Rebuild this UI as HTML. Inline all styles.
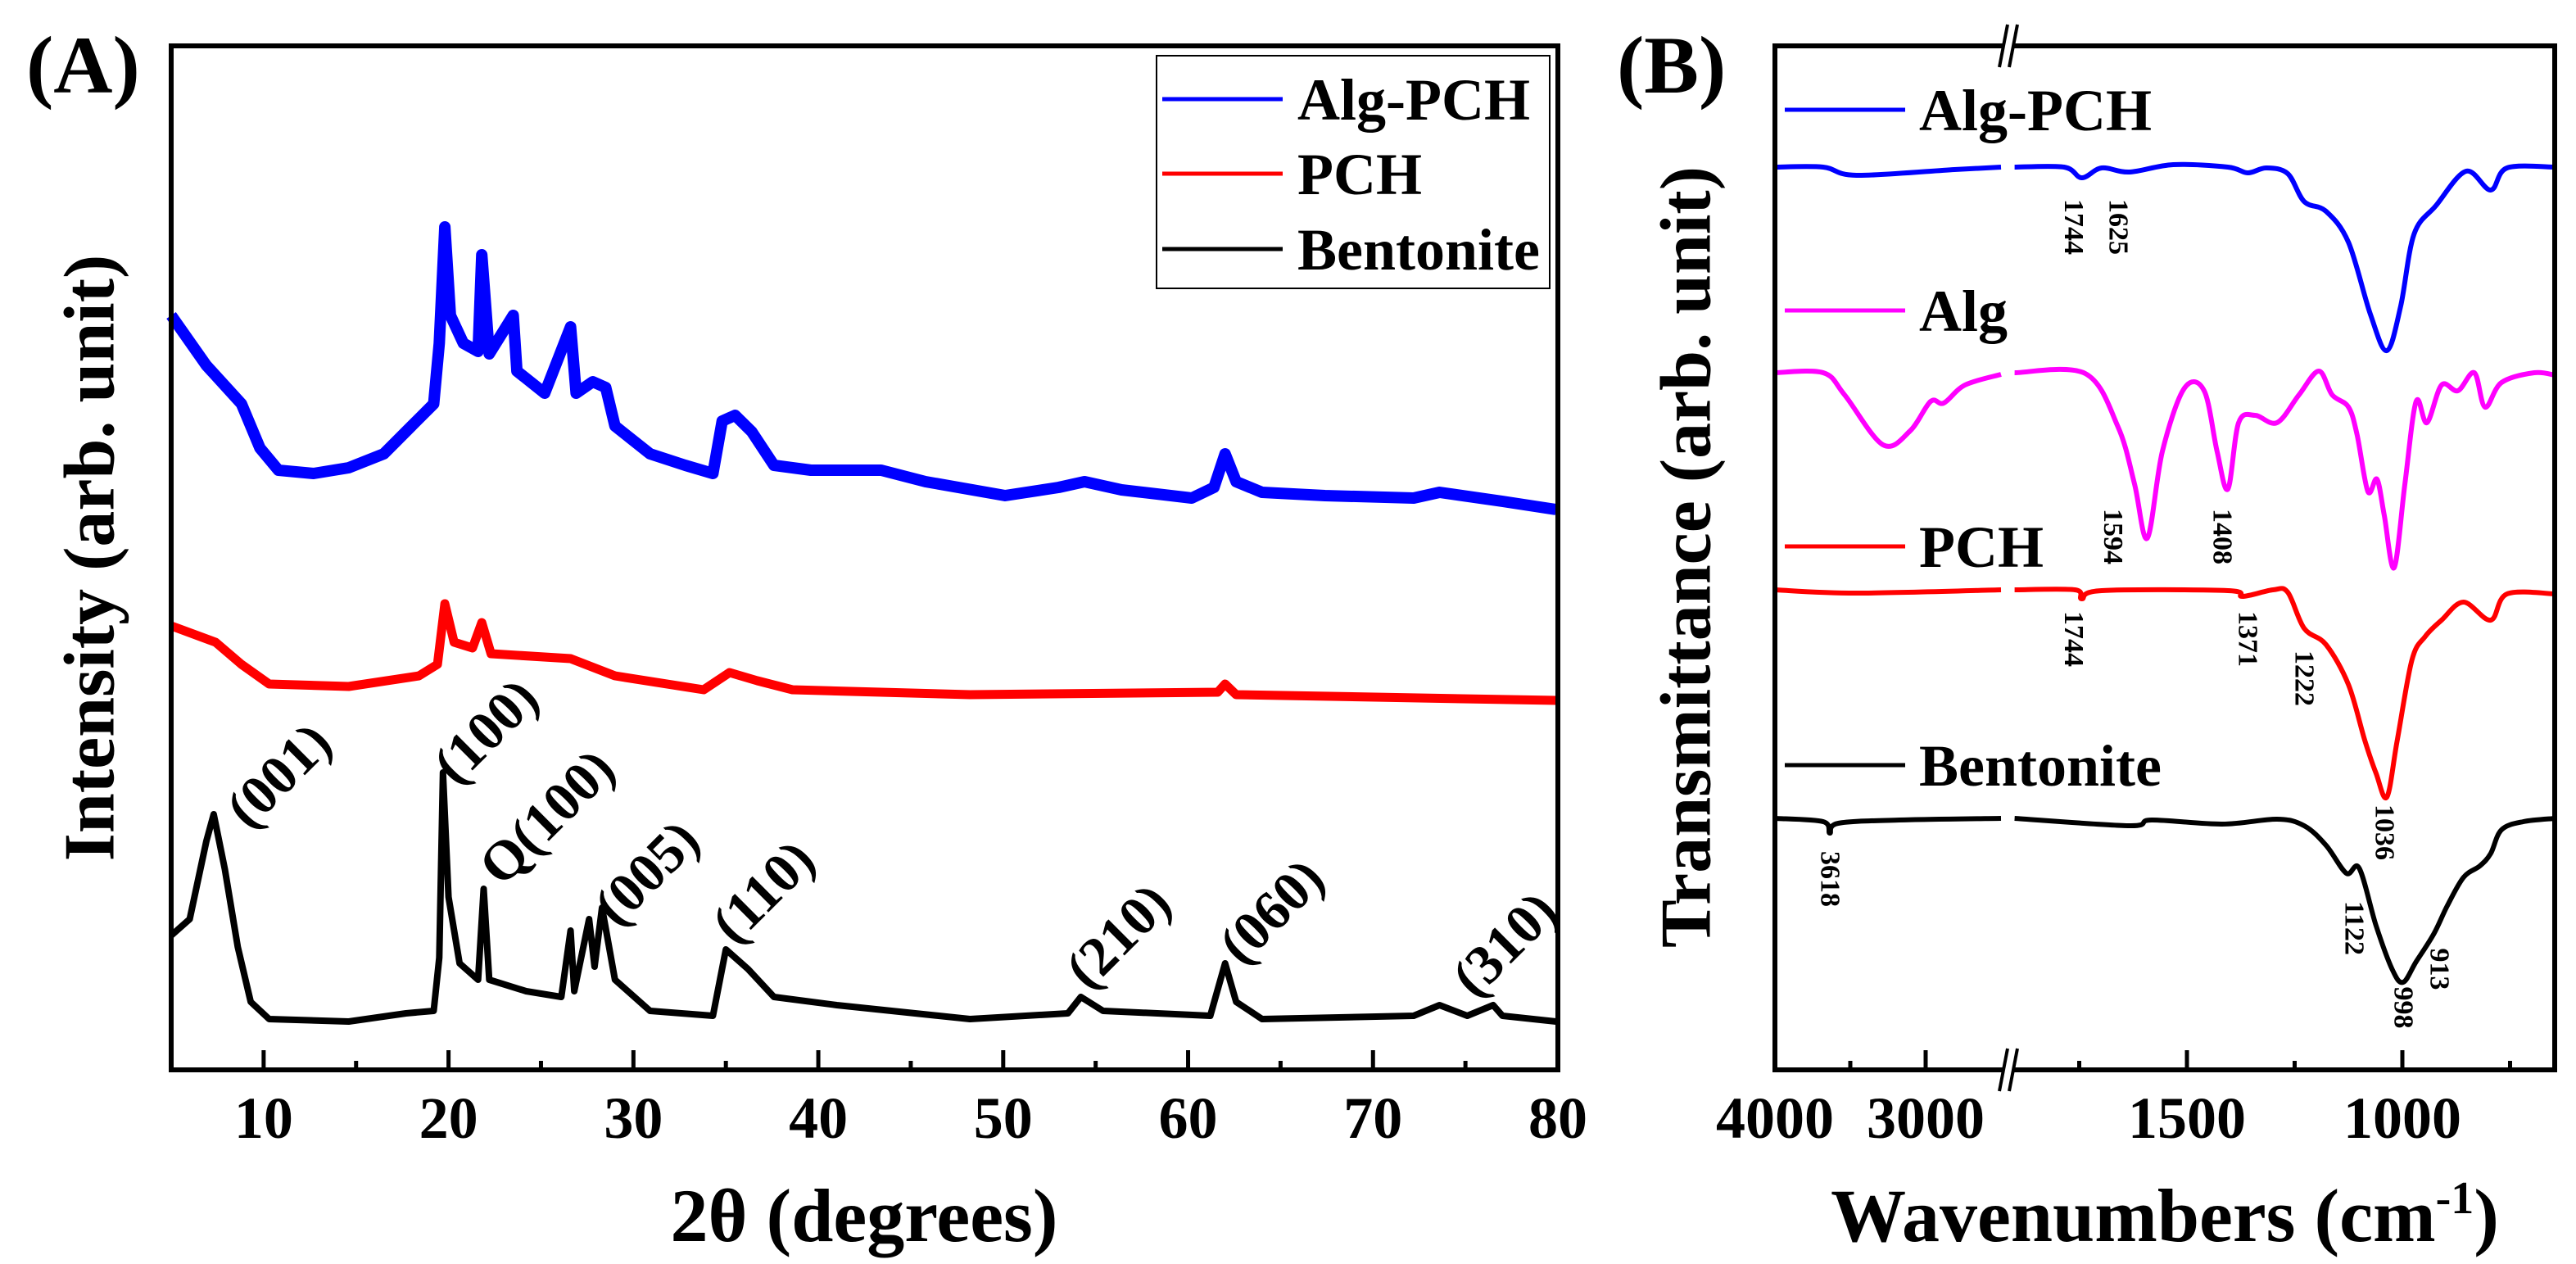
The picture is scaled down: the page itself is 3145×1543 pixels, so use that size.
<!DOCTYPE html>
<html><head><meta charset="utf-8"><style>
html,body{margin:0;padding:0;background:#fff;}
svg{display:block;font-family:"Liberation Serif",serif;font-weight:bold;}
</style></head><body>
<svg id="fig" width="3145" height="1543" viewBox="0 0 3145 1543" xmlns="http://www.w3.org/2000/svg">
<rect width="3145" height="1543" fill="#fff"/>
<g id="panelA"></g>
<g id="panelB"></g>
</svg>
<script>
// ---------- Panel A data (XRD) ----------
const xrdTicks = [10,20,30,40,50,60,70,80];
const thetaAlgPCH = [5.0,6.9,8.8,9.8,10.8,12.7,14.6,16.5,18.0,19.2,19.5,19.8,20.1,20.8,21.6,21.8,22.2,23.5,23.7,25.2,26.6,26.9,27.8,28.5,29.0,30.9,32.8,34.3,34.8,35.5,36.4,37.6,39.6,43.4,45.8,50.1,53.0,54.4,56.4,60.2,61.4,62.0,62.6,64.0,67.4,72.2,73.6,77.0,79.9];
const intAlgPCH = [921,860,813,759,732,728,735,752,786,813,887,1029,921,887,877,995,874,921,853,826,907,826,840,833,786,752,738,728,792,799,779,738,732,732,718,701,711,718,708,698,711,752,718,705,701,698,705,694,684];
const thetaPCH = [5.0,7.4,8.8,10.3,14.6,18.4,19.4,19.8,20.3,21.3,21.8,22.3,26.6,29.0,33.8,35.2,36.7,38.6,48.2,61.6,62.0,62.6,79.9];
const intPCH = [542,522,495,471,468,481,495,569,522,515,546,508,502,481,464,485,475,464,458,461,471,458,451];
const thetaBent = [5,6.0,6.9,7.3,7.9,8.6,9.3,10.3,14.6,17.7,19.2,19.5,19.7,20.0,20.6,21.6,21.9,22.2,24.2,26.1,26.6,26.8,27.6,27.9,28.3,29.0,30.9,34.3,35.0,36.2,37.6,41.0,48.2,53.5,54.2,55.4,61.2,62.0,62.6,64.0,72.2,73.6,75.1,76.5,77.0,79.9];
const intBent = [164,184,279,312,245,150,83,62,59,69,72,137,363,211,130,110,221,110,96,89,170,96,184,126,198,110,72,66,147,123,89,79,62,69,89,72,66,130,83,62,66,79,66,79,66,59];
const xrdLabels = ["(001)","(100)","Q(100)","(005)","(110)","(210)","(060)","(310)"];
const xrdLabelTheta = [10.8,22.0,25.3,30.7,37.0,56.2,64.5,77.1];
const xrdLabelInt = [360,414,309,241,218,164,194,154];

// ---------- Panel B data (FTIR) ----------
const wnTicks = [4000,3000,1500,1000];
const wnMinor = [3500,1750,1250,750];
const wnLeftAlgPCH = [4000,3680,3460,2810,2500];
const tLeftAlgPCH = [1102,1102,1092,1099,1102];
const wnRightAlgPCH = [1900,1785,1744,1698,1633,1532,1405,1359,1316,1266,1228,1177,1125,1074,1036,1004,973,922,852,795,757,645];
const tRightAlgPCH = [1102,1102,1089,1101,1096,1105,1102,1095,1101,1094,1060,1048,1010,922,878,932,1020,1055,1097,1074,1101,1102];
const wnLeftAlg = [4000,3680,3538,3283,3103,2967,2880,2739,2500];
const tLeftAlg = [851,851,824,763,780,816,814,836,849];
const wnRightAlg = [1900,1736,1660,1622,1592,1557,1506,1460,1430,1405,1380,1342,1291,1240,1194,1163,1125,1105,1080,1059,1042,1019,994,968,943,909,871,833,808,770,694,645];
const tRightAlg = [851,850,785,716,649,755,832,829,755,709,790,799,790,824,853,824,809,775,706,721,677,613,716,816,790,836,829,851,809,839,851,848];
const wnLeftPCH = [4000,3460,2500];
const tLeftPCH = [586,582,586];
const wnRightPCH = [1900,1760,1744,1698,1405,1371,1300,1266,1228,1177,1125,1087,1061,1036,1012,978,947,909,858,795,757,645];
const tRightPCH = [586,586,575,585,585,578,586,583,539,519,470,402,362,333,402,500,529,549,571,549,581,581];
const wnLeftBent = [4000,3680,3636,3580,3174,2500];
const tLeftBent = [307,303,289,301,305,307];
const wnRightBent = [1900,1633,1582,1418,1291,1228,1177,1130,1100,1061,1023,998,968,927,896,858,820,795,770,719,645];
const tRightBent = [307,298,305,300,306,298,274,240,246,176,122,107,132,166,200,235,249,264,293,303,307];
const ftirLabels = ["1744","1625","1594","1408","1744","1371","1222","1036","3618","1122","998","913"];
const ftirLabelPosWn = [1763,1660,1672,1418,1763,1359,1228,1042,3636,1112,998,914];
const ftirLabelT = [1029,1029,651,651,526,526,478,290,233,173,76,123];

const NS = "http://www.w3.org/2000/svg";
function mk(tag, attrs, parent){ const e=document.createElementNS(NS,tag); for(const k in attrs) e.setAttribute(k,attrs[k]); parent.appendChild(e); return e; }

// ---------- Axes A ----------
const A = {l:209, r:1902, t:56, b:1306};
const xA = v => A.l + (v-5)*(A.r-A.l)/75;
const yA = v => A.b - v;
const gA = document.getElementById('panelA');

function polyPath(xs, ys, fx, fy){ return xs.map((v,i)=>(i?'L':'M')+fx(v).toFixed(1)+' '+fy(ys[i]).toFixed(1)).join(' '); }
function smoothPath(xs, ys, fx, fy){
  const p = xs.map((v,i)=>[fx(v), fy(ys[i])]);
  let d = 'M'+p[0][0].toFixed(1)+' '+p[0][1].toFixed(1);
  for(let i=0;i<p.length-1;i++){
    const p0=p[Math.max(0,i-1)], p1=p[i], p2=p[i+1], p3=p[Math.min(p.length-1,i+2)];
    const c1=[p1[0]+(p2[0]-p0[0])/6, p1[1]+(p2[1]-p0[1])/6];
    const c2=[p2[0]-(p3[0]-p1[0])/6, p2[1]-(p3[1]-p1[1])/6];
    d += ' C'+c1[0].toFixed(1)+' '+c1[1].toFixed(1)+' '+c2[0].toFixed(1)+' '+c2[1].toFixed(1)+' '+p2[0].toFixed(1)+' '+p2[1].toFixed(1);
  }
  return d;
}

let el;
el = mk('path',{d:polyPath(thetaAlgPCH,intAlgPCH,xA,yA),fill:'none',stroke:'#0000ff','stroke-width':14,'stroke-linejoin':'round'},gA);


el = mk('path',{d:polyPath(thetaPCH,intPCH,xA,yA),fill:'none',stroke:'#ff0000','stroke-width':11,'stroke-linejoin':'round'},gA);


el = mk('path',{d:polyPath(thetaBent,intBent,xA,yA),fill:'none',stroke:'#000','stroke-width':8,'stroke-linejoin':'round'},gA);



xrdLabels.forEach((s,i)=>{
  const x=xA(xrdLabelTheta[i]), y=yA(xrdLabelInt[i]);
  const t=mk('text',{x:x,y:y,'font-size':68,'text-anchor':'middle','dominant-baseline':'central',transform:`rotate(-45 ${x} ${y})`},gA);
  t.textContent=s;
  
  
});

el = mk('rect',{x:A.l,y:A.t,width:A.r-A.l,height:A.b-A.t,fill:'none',stroke:'#000','stroke-width':6},gA);


for(let v=10; v<=80; v+=5){
  const major = v%10===0;
  el = mk('line',{x1:xA(v),x2:xA(v),y1:A.b,y2:A.b-(major?24:11),stroke:'#000','stroke-width':5},gA);
  
  
}
xrdTicks.forEach(v=>{
  const t=mk('text',{x:xA(v),y:1389,'font-size':72,'text-anchor':'middle'},gA);
  t.textContent=v;
  
  
});
el=mk('text',{x:1055,y:1515,'font-size':92,'text-anchor':'middle'},gA);
el.textContent='2θ (degrees)';


el=mk('text',{x:0,y:0,'font-size':88,'text-anchor':'middle','dominant-baseline':'central',transform:'translate(110 681) rotate(-90)'},gA);
el.textContent='Intensity (arb. unit)';


el=mk('text',{x:32,y:113,'font-size':100},gA);
el.textContent='(A)';



// legend A
const legA = mk('g',{},gA);


mk('rect',{x:1412,y:68,width:480,height:284,fill:'#fff',stroke:'#000','stroke-width':2},legA);
const legNames=['Alg-PCH','PCH','Bentonite'], legCols=['#0000ff','#ff0000','#000'], legY=[121,212,304];
legNames.forEach((n,i)=>{
  const g=mk('g',{},legA);
  
  
  mk('line',{x1:1419,x2:1566,y1:legY[i],y2:legY[i],stroke:legCols[i],'stroke-width':5},g);
  const t=mk('text',{x:1584,y:legY[i]+25,'font-size':72},g);
  t.textContent=n;
});

// ---------- Axes B ----------
const B = {l:2167, r:3119, t:56, b:1306};
const xL = w => 2167 + (4000-w)*0.184;
const xR = w => 2933 + (1000-w)*0.526;
const yB = v => B.b - v;
const gB = document.getElementById('panelB');

const ser = [
  ['alg-pch','#0000ff',wnLeftAlgPCH,tLeftAlgPCH,wnRightAlgPCH,tRightAlgPCH],
  ['alg','#ff00ff',wnLeftAlg,tLeftAlg,wnRightAlg,tRightAlg],
  ['pch','#ff0000',wnLeftPCH,tLeftPCH,wnRightPCH,tRightPCH],
  ['bentonite','#000000',wnLeftBent,tLeftBent,wnRightBent,tRightBent]
];
ser.forEach(s=>{
  el = mk('path',{d:smoothPath(s[2],s[3],xL,yB),fill:'none',stroke:s[1],'stroke-width':6},gB);
  
  
  el = mk('path',{d:smoothPath(s[4],s[5],xR,yB),fill:'none',stroke:s[1],'stroke-width':6},gB);
  
  
});

ftirLabels.forEach((s,i)=>{
  const w=ftirLabelPosWn[i];
  const x = w>2000 ? xL(w) : xR(w);
  const y = yB(ftirLabelT[i]);
  const t=mk('text',{x:x,y:y,'font-size':34,'text-anchor':'middle','dominant-baseline':'central',transform:`rotate(90 ${x} ${y})`},gB);
  t.textContent=s;
  
  
});

el = mk('rect',{x:B.l,y:B.t,width:B.r-B.l,height:B.b-B.t,fill:'none',stroke:'#000','stroke-width':6},gB);


// axis break
[B.t,B.b].forEach(y=>{
  mk('rect',{x:2447,y:y-5,width:12,height:10,fill:'#fff'},gB);
  el=mk('line',{x1:2441,y1:y+26,x2:2451,y2:y-26,stroke:'#000','stroke-width':4},gB);
  
  
  el=mk('line',{x1:2453,y1:y+26,x2:2463,y2:y-26,stroke:'#000','stroke-width':4},gB);
  
  
});
wnTicks.forEach(w=>{
  const x = w>2000 ? xL(w) : xR(w);
  el=mk('line',{x1:x,x2:x,y1:B.b,y2:B.b-24,stroke:'#000','stroke-width':5},gB);
  
  
  const t=mk('text',{x:x,y:1389,'font-size':72,'text-anchor':'middle'},gB);
  t.textContent=w;
  
  
});
wnMinor.forEach(w=>{
  const x = w>2000 ? xL(w) : xR(w);
  el=mk('line',{x1:x,x2:x,y1:B.b,y2:B.b-11,stroke:'#000','stroke-width':5},gB);
  
  
});
el=mk('text',{x:2643,y:1515,'font-size':92,'text-anchor':'middle'},gB);
el.innerHTML='Wavenumbers (cm<tspan dy="-34" font-size="56">-1</tspan><tspan dy="34">)</tspan>';


el=mk('text',{x:0,y:0,'font-size':88,'text-anchor':'middle','dominant-baseline':'central',transform:'translate(2059 680) rotate(-90)'},gB);
el.textContent='Transmittance (arb. unit)';


el=mk('text',{x:1974,y:113,'font-size':100},gB);
el.textContent='(B)';



const legBNames=['Alg-PCH','Alg','PCH','Bentonite'], legBCols=['#0000ff','#ff00ff','#ff0000','#000'], legBY=[134,379,667,934];
legBNames.forEach((n,i)=>{
  const g=mk('g',{},gB);
  
  
  mk('line',{x1:2179,x2:2326,y1:legBY[i],y2:legBY[i],stroke:legBCols[i],'stroke-width':5},g);
  const t=mk('text',{x:2343,y:legBY[i]+25,'font-size':72},g);
  t.textContent=n;
});
</script>
</body></html>
